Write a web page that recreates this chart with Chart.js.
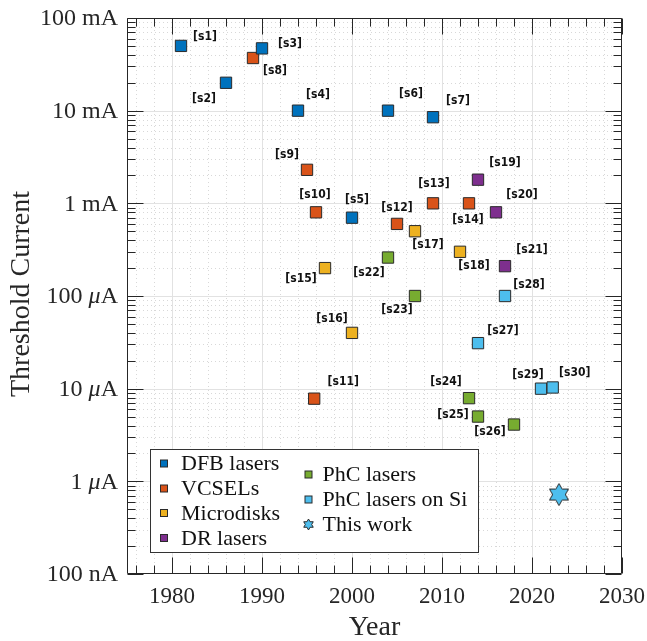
<!DOCTYPE html>
<html><head><meta charset="utf-8">
<script src="https://cdn.jsdelivr.net/npm/chart.js@4.4.1/dist/chart.umd.min.js"></script>
<style>html,body{margin:0;padding:0;background:#fff;}</style>
</head><body>
<canvas id="c" width="647" height="641"></canvas>
<script>
// ---------- data (threshold current in mA) ----------
const dfbYears = [1981, 1986, 1990, 1994, 2000, 2004, 2009];
const dfbCurrent = [50, 20, 47, 10, 0.7, 10, 8.5];
const dfbRefs = ['[s1]','[s2]','[s3]','[s4]','[s5]','[s6]','[s7]'];

const vcselYears = [1989, 1995, 1996, 1995.8, 2005, 2009, 2013];
const vcselCurrent = [37, 2.3, 0.8, 0.0078, 0.6, 1.0, 1.0];
const vcselRefs = ['[s8]','[s9]','[s10]','[s11]','[s12]','[s13]','[s14]'];

const diskYears = [1997, 2000, 2007, 2012];
const diskCurrent = [0.2, 0.04, 0.5, 0.3];
const diskRefs = ['[s15]','[s16]','[s17]','[s18]'];

const drYears = [2014, 2016, 2017];
const drCurrent = [1.8, 0.8, 0.21];
const drRefs = ['[s19]','[s20]','[s21]'];

const phcYears = [2004, 2007, 2013, 2014, 2018];
const phcCurrent = [0.26, 0.1, 0.0079, 0.005, 0.0041];
const phcRefs = ['[s22]','[s23]','[s24]','[s25]','[s26]'];

const phcSiYears = [2014, 2017, 2021, 2022.3];
const phcSiCurrent = [0.031, 0.1, 0.01, 0.0103];
const phcSiRefs = ['[s27]','[s28]','[s29]','[s30]'];

const thisWorkYears = [2023];
const thisWorkCurrent = [0.00072];

const seriesNames = ['DFB lasers','VCSELs','Microdisks','DR lasers','PhC lasers','PhC lasers on Si','This work'];

const xTickYears = [1980, 1990, 2000, 2010, 2020, 2030];
const yTickValues = [100, 10, 1, 0.1, 0.01, 0.001, 0.0001];
const yTickLabels = ['100 mA','10 mA','1 mA','100 μA','10 μA','1 μA','100 nA'];

// ---------- layout / style (not data) ----------
const labelOffsets = {
  '[s1]':[24,-9], '[s2]':[-22,16], '[s3]':[28,-5], '[s4]':[20,-16], '[s5]':[5,-18], '[s6]':[23,-17], '[s7]':[25,-16],
  '[s8]':[22,13], '[s9]':[-20,-15], '[s10]':[-1,-17], '[s11]':[29,-17], '[s12]':[0,-16], '[s13]':[1,-19], '[s14]':[-1,17],
  '[s15]':[-24,11], '[s16]':[-20,-14], '[s17]':[13,14], '[s18]':[14,14],
  '[s19]':[27,-17], '[s20]':[26,-17], '[s21]':[27,-16],
  '[s22]':[-19,15], '[s23]':[-18,14], '[s24]':[-23,-16], '[s25]':[-25,-2], '[s26]':[-24,7],
  '[s27]':[25,-12], '[s28]':[24,-11], '[s29]':[-13,-14], '[s30]':[22,-15]
};
const COLORS = ['#0072BD','#D95319','#EDB120','#7E2F8E','#77AC30','#4DBEEE','#4DBEEE'];
const EDGE = '#2a2a2a';
const AX = '#262626';
const SERIF = '"Liberation Serif","Times New Roman",serif';

function starPath(ctx, cx, cy, R) {
  const r = R / Math.sqrt(3);
  ctx.beginPath();
  for (let k = 0; k < 12; k++) {
    const ang = (-90 + 30 * k) * Math.PI / 180;
    const rad = (k % 2 === 0) ? R : r;
    const px = cx + rad * Math.cos(ang), py = cy + rad * Math.sin(ang);
    if (k === 0) ctx.moveTo(px, py); else ctx.lineTo(px, py);
  }
  ctx.closePath();
}
function makeStar(R) {
  const c = document.createElement('canvas');
  const s = Math.ceil(2 * R + 4);
  c.width = s; c.height = s;
  const g = c.getContext('2d');
  starPath(g, s / 2, s / 2, R);
  g.fillStyle = COLORS[6]; g.fill();
  g.lineWidth = 1; g.strokeStyle = EDGE; g.stroke();
  return c;
}
const bigStar = makeStar(11);

function pts(xs, ys, refs) { return xs.map((v, i) => ({x: v, y: ys[i], ref: refs ? refs[i] : null})); }

const groups = [
  pts(dfbYears, dfbCurrent, dfbRefs),
  pts(vcselYears, vcselCurrent, vcselRefs),
  pts(diskYears, diskCurrent, diskRefs),
  pts(drYears, drCurrent, drRefs),
  pts(phcYears, phcCurrent, phcRefs),
  pts(phcSiYears, phcSiCurrent, phcSiRefs),
  pts(thisWorkYears, thisWorkCurrent, null)
];

const datasets = groups.map((d, i) => ({
  label: seriesNames[i],
  data: d,
  backgroundColor: COLORS[i],
  borderColor: EDGE,
  borderWidth: 1,
  pointStyle: i === 6 ? bigStar : 'rect',
  pointRadius: 8,
  pointHoverRadius: 8
}));

const matlabPlugin = {
  id: 'matlab',
  beforeDatasetsDraw(chart) {
    const {ctx, chartArea: a, scales: {x, y}} = chart;
    ctx.save();
    ctx.beginPath(); ctx.rect(a.left, a.top, a.right - a.left, a.bottom - a.top); ctx.clip();
    const vline = (px, col, dash) => { ctx.strokeStyle = col; ctx.setLineDash(dash); ctx.beginPath(); ctx.moveTo(px, a.top); ctx.lineTo(px, a.bottom); ctx.stroke(); };
    const hline = (py, col, dash) => { ctx.strokeStyle = col; ctx.setLineDash(dash); ctx.beginPath(); ctx.moveTo(a.left, py); ctx.lineTo(a.right, py); ctx.stroke(); };
    ctx.lineWidth = 1;
    // minor grid
    for (let yr = 1976; yr < 2030; yr += 2) if (yr % 10) vline(Math.round(x.getPixelForValue(yr)) + 0.5, '#d8d8d8', [1, 3]);
    for (let e = -4; e <= 1; e++) for (let m = 2; m <= 9; m++) {
      const v = m * Math.pow(10, e);
      hline(Math.round(y.getPixelForValue(v)) + 0.5, '#d8d8d8', [1, 3]);
    }
    // major grid
    xTickYears.forEach(v => vline(Math.round(x.getPixelForValue(v)) + 0.5, '#e2e2e2', []));
    yTickValues.forEach(v => hline(Math.round(y.getPixelForValue(v)) + 0.5, '#e2e2e2', []));
    ctx.restore();
  },
  afterDatasetsDraw(chart) {
    const {ctx, chartArea: a, scales: {x, y}} = chart;
    ctx.save();
    // reference labels
    ctx.font = 'bold 12px "DejaVu Sans Condensed", "DejaVu Sans", Verdana, sans-serif';
    ctx.fillStyle = '#111';
    ctx.textAlign = 'center'; ctx.textBaseline = 'middle';
    chart.data.datasets.forEach((ds, di) => {
      const meta = chart.getDatasetMeta(di);
      ds.data.forEach((p, i) => {
        if (!p.ref) return;
        const el = meta.data[i];
        const o = labelOffsets[p.ref] || [0, -15];
        ctx.fillText(p.ref, el.x + o[0], el.y + o[1]);
      });
    });
    // axes box and ticks
    ctx.strokeStyle = AX; ctx.lineWidth = 1; ctx.setLineDash([]);
    const L = Math.round(a.left) + 0.5, R = Math.round(a.right) - 0.5, T = Math.round(a.top) + 0.5, B = Math.round(a.bottom) - 0.5;
    ctx.beginPath(); ctx.rect(L, T, R - L, B - T); ctx.stroke();
    const seg = (x1, y1, x2, y2) => { ctx.beginPath(); ctx.moveTo(x1, y1); ctx.lineTo(x2, y2); ctx.stroke(); };
    for (let yr = 1976; yr <= 2030; yr += 2) {
      const px = Math.round(x.getPixelForValue(yr)) + 0.5;
      const len = yr % 10 === 0 ? 16 : 8;
      seg(px, B, px, B - len); seg(px, T, px, T + len);
    }
    for (let e = -7; e <= -1; e++) for (let m = 1; m <= 9; m++) {
      const v = m * Math.pow(10, e + 3);
      if (v > 100.0001) continue;
      const py = Math.round(y.getPixelForValue(v)) + 0.5;
      const len = m === 1 ? 16 : 8;
      seg(L, py, L + len, py); seg(R, py, R - len, py);
    }
    // y tick labels (with italic mu)
    ctx.fillStyle = AX; ctx.textBaseline = 'middle'; ctx.textAlign = 'left';
    const fN = '24px ' + SERIF, fI = 'italic 24px ' + SERIF;
    yTickValues.forEach((v, i) => {
      const py = y.getPixelForValue(v);
      const parts = [];
      const lab = yTickLabels[i];
      const mu = lab.indexOf('μ');
      if (mu >= 0) { parts.push([lab.slice(0, mu), fN]); parts.push(['μ', fI]); parts.push([lab.slice(mu + 1), fN]); }
      else parts.push([lab, fN]);
      let w = 0;
      parts.forEach(p => { ctx.font = p[1]; w += ctx.measureText(p[0]).width; });
      let cx = a.left - 9 - w;
      parts.forEach(p => { ctx.font = p[1]; ctx.fillText(p[0], cx, py + 1); cx += ctx.measureText(p[0]).width; });
    });
    // axis titles
    ctx.font = '28px ' + SERIF; ctx.textAlign = 'center'; ctx.textBaseline = 'middle';
    ctx.fillText('Year', (a.left + a.right) / 2, 628);
    ctx.save(); ctx.translate(22, (a.top + a.bottom) / 2 - 2); ctx.rotate(-Math.PI / 2);
    ctx.fillText('Threshold Current', 0, 0); ctx.restore();
    // legend
    const lx0 = 150.5, ly0 = 449.5, lx1 = 478.5, ly1 = 552.5;
    ctx.fillStyle = '#fff'; ctx.fillRect(lx0, ly0, lx1 - lx0, ly1 - ly0);
    ctx.strokeStyle = '#333'; ctx.lineWidth = 1; ctx.strokeRect(lx0, ly0, lx1 - lx0, ly1 - ly0);
    const slots = [[164, 463.5, 17], [164, 488.5, 17], [164, 513, 17], [164, 538, 17], [308.5, 474.5, 14], [308.5, 499.5, 14], [308.5, 524.5, 14]];
    ctx.font = '22px ' + SERIF; ctx.textAlign = 'left'; ctx.textBaseline = 'middle';
    chart.data.datasets.forEach((ds, i) => {
      const [mx, my, gap] = slots[i];
      ctx.fillStyle = ds.backgroundColor; ctx.strokeStyle = EDGE; ctx.lineWidth = 1;
      if (i === 6) { starPath(ctx, mx, my, 5.5); ctx.fill(); ctx.stroke(); }
      else { ctx.fillRect(mx - 3.5, my - 3.5, 7, 7); ctx.strokeRect(mx - 3.5, my - 3.5, 7, 7); }
      ctx.fillStyle = '#111';
      ctx.fillText(ds.label, mx + gap, my + 1);
    });
    ctx.restore();
  }
};

new Chart(document.getElementById('c'), {
  type: 'scatter',
  data: { datasets },
  options: {
    responsive: false,
    devicePixelRatio: 1,
    animation: false,
    layout: { padding: { top: 18, right: 25, left: 0, bottom: 0 } },
    plugins: { legend: { display: false }, tooltip: { enabled: false }, title: { display: false } },
    scales: {
      x: {
        type: 'linear', min: 1975, max: 2030,
        afterBuildTicks: s => { s.ticks = xTickYears.map(v => ({ value: v })); },
        afterFit: s => { s.height = 67; s.paddingRight = 0; s.paddingLeft = 0; },
        grid: { display: false, drawTicks: false },
        border: { display: false },
        ticks: { font: { family: SERIF, size: 23 }, color: AX, padding: 9, maxRotation: 0, callback: v => String(v) }
      },
      y: {
        type: 'logarithmic', min: 0.0001, max: 100,
        afterBuildTicks: s => { s.ticks = yTickValues.map(v => ({ value: v })); },
        afterFit: s => { s.width = 127; s.paddingTop = 0; s.paddingBottom = 0; },
        grid: { display: false, drawTicks: false },
        border: { display: false },
        ticks: { display: false }
      }
    }
  },
  plugins: [matlabPlugin]
});
</script>
</body></html>
